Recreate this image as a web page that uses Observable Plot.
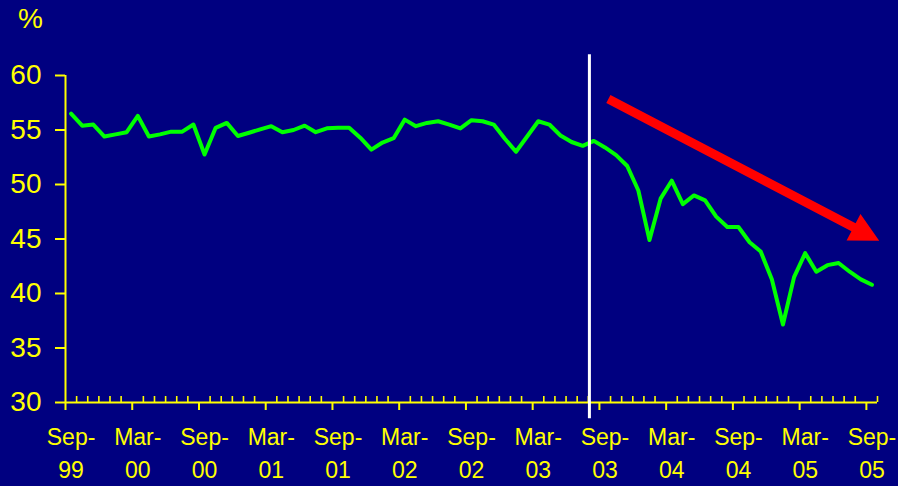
<!DOCTYPE html>
<html><head><meta charset="utf-8">
<script src="https://cdn.jsdelivr.net/npm/d3@7"></script>
<script src="https://cdn.jsdelivr.net/npm/@observablehq/plot@0.6"></script>
<style>
html,body{margin:0;padding:0;background:#000080;}
#chart{width:898px;height:486px;}
</style></head><body><div id="chart"></div>
<script>
// Monthly categories Sep-99 .. Sep-05
const months = d3.utcMonth.range(new Date(Date.UTC(1999, 8, 1)), new Date(Date.UTC(2005, 9, 1))).map(d3.utcFormat("%b-%y"));
// Series values (%)
const values = [
  56.5, 55.4, 55.5, 54.4, 54.6, 54.8, 56.3, 54.4, 54.6, 54.85, 54.85, 55.5,
  52.75, 55.2, 55.65, 54.45, 54.75, 55.05, 55.35, 54.8, 55.0, 55.4, 54.8, 55.15,
  55.2, 55.2, 54.3, 53.2, 53.85, 54.25, 55.95, 55.35, 55.65, 55.8, 55.5, 55.15,
  55.9, 55.8, 55.5, 54.2, 53.0, 54.4, 55.8, 55.5, 54.5, 53.9, 53.55, 54.0,
  53.4, 52.7, 51.7, 49.45, 44.9, 48.7, 50.35, 48.2, 49.0, 48.55, 47.05, 46.1,
  46.1, 44.7, 43.85, 41.3, 37.15, 41.5, 43.7, 42.0, 42.6, 42.8, 42.0, 41.3,
  40.8
];
// Tick labels
const tickMonths = ["Sep-99","Mar-00","Sep-00","Mar-01","Sep-01","Mar-02","Sep-02","Mar-03","Sep-03","Mar-04","Sep-04","Mar-05","Sep-05"];
const yTicks = [30, 35, 40, 45, 50, 55, 60];
// Annotations (in data units: month index, %)
const breakAt = 47.1;
const breakSpan = [28.5, 61.9];
const arrowFrom = [48.85, 57.8];
const arrowTo = [73.2, 44.8];

const data = values.map((v, i) => ({month: months[i], pos: i + 0.5, value: v}));

const W = 898, H = 486, mt = 75, mb = 84, ml = 65, mr = 21;
const frameH = H - mt - mb;
const majorEdges = tickMonths.map(m => months.indexOf(m));
const minorEdges = d3.range(1, months.length + 1).filter(i => i % 6 !== 0);
const YEL = "#ffff00";

const plot = Plot.plot({
  width: W, height: H,
  marginTop: mt, marginBottom: mb, marginLeft: ml, marginRight: mr,
  style: {background: "#000080", color: YEL, fontFamily: "'Liberation Sans', Arial, sans-serif", overflow: "visible"},
  x: {domain: [0, months.length], axis: null},
  y: {domain: [30, 60]},
  marks: [
    Plot.axisY(yTicks, {tickSize: 10, tickPadding: 14, fontSize: 28, strokeWidth: 2, label: null, fill: YEL, stroke: YEL}),
    Plot.ruleX([0], {stroke: YEL, strokeWidth: 2}),
    Plot.ruleY([30], {stroke: YEL, strokeWidth: 2}),
    Plot.tickX(minorEdges, {x: d => d, stroke: YEL, strokeWidth: 1.6, insetTop: frameH - 6}),
    Plot.tickX(majorEdges, {x: d => d, stroke: YEL, strokeWidth: 2, insetTop: frameH, insetBottom: -8}),
    Plot.text(tickMonths, {x: m => months.indexOf(m) + 0.5, text: m => m.replace("-", "-\n"), frameAnchor: "bottom", lineAnchor: "top", dy: 19, fontSize: 23, lineHeight: 1.43, fill: YEL}),
    Plot.line(data, {x: "pos", y: "value", stroke: "#00ff00", strokeWidth: 4}),
    Plot.ruleX([breakAt], {y1: breakSpan[0], y2: breakSpan[1], stroke: "#ffffff", strokeWidth: 3}),
    Plot.text(["%"], {frameAnchor: "top-left", dx: -35, dy: -56, lineAnchor: "middle", textAnchor: "middle", fontSize: 28, fill: YEL})
  ]
});

// Red trend arrow, positioned through the plot's own scales
const sx = plot.scale("x"), sy = plot.scale("y");
const p0 = [sx.apply(arrowFrom[0]), sy.apply(arrowFrom[1])];
const p1 = [sx.apply(arrowTo[0]), sy.apply(arrowTo[1])];
const dx = p1[0] - p0[0], dy = p1[1] - p0[1], len = Math.hypot(dx, dy);
const u = [dx / len, dy / len], n = [-u[1], u[0]];
const shaftW = 4.5, headL = 29, headW = 15;
const base = [p1[0] - u[0] * headL, p1[1] - u[1] * headL];
const pt = (p, k) => [p[0] + n[0] * k, p[1] + n[1] * k];
const poly = [pt(p0, shaftW), pt(base, shaftW), pt(base, headW), p1, pt(base, -headW), pt(base, -shaftW), pt(p0, -shaftW)];
d3.select(plot).append("path")
  .attr("d", "M" + poly.map(p => p.join(",")).join("L") + "Z")
  .attr("fill", "#ff0000");

document.getElementById("chart").appendChild(plot);
</script></body></html>
